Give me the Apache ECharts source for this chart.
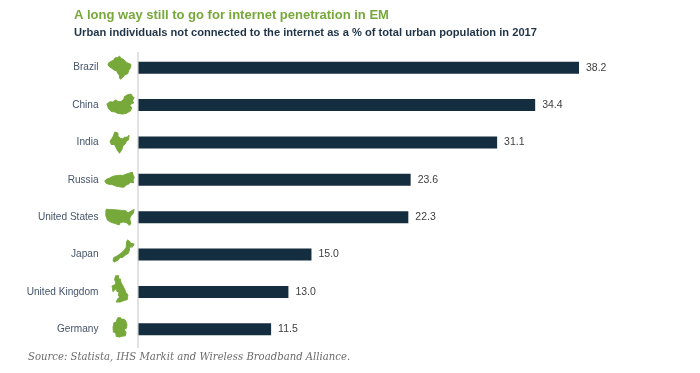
<!DOCTYPE html>
<html><head><meta charset="utf-8">
<style>html,body{margin:0;padding:0;background:#fff}#c{width:700px;height:373px;filter:blur(0.4px)}</style>
<script src="https://cdn.jsdelivr.net/npm/echarts@6/dist/echarts.min.js"></script>
</head><body><div id="c"></div>
<script>
const categories = ['Brazil','China','India','Russia','United States','Japan','United Kingdom','Germany'];
// Bar lengths as drawn in the picture: the United States bar is visibly longer than its printed 22.3.
const barLengths = [38.2,34.4,31.1,23.6,23.4,15.0,13.0,11.5];
const printedValues = ['38.2','34.4','31.1','23.6','22.3','15.0','13.0','11.5'];
const titleText = 'A long way still to go for internet penetration in EM';
const subtitleText = 'Urban individuals not connected to the internet as a % of total urban population in 2017';
const sourceText = 'Source: Statista, IHS Markit and Wireless Broadband Alliance.';
const iconPaths = [
 'M2 30 L14 22 L24 18 L30 8 L42 6 L50 0 L58 10 L70 16 L82 28 L100 36 L98 50 L90 62 L86 76 L72 82 L64 92 L54 100 L50 94 L50 84 L42 74 L38 64 L26 60 L16 52 L6 46 L0 38 Z',
 'M0 50 L12 38 L22 40 L32 30 L42 38 L54 36 L62 26 L66 12 L76 4 L88 0 L94 12 L100 18 L94 32 L98 44 L88 50 L84 58 L92 68 L86 84 L72 96 L58 100 L42 98 L32 90 L18 88 L6 72 Z',
 'M26 0 L42 6 L42 22 L54 30 L68 34 L76 26 L90 26 L100 16 L98 36 L86 44 L80 56 L68 66 L62 84 L50 100 L40 88 L30 70 L24 60 L8 60 L0 46 L10 32 L16 22 Z',
 'M0 58 L8 44 L16 38 L28 26 L40 22 L52 18 L64 20 L76 10 L86 4 L94 0 L96 18 L100 34 L96 50 L98 70 L86 66 L80 80 L70 88 L64 100 L50 98 L38 92 L28 84 L18 82 L6 76 Z',
 'M2 0 L24 2 L52 6 L68 8 L74 18 L82 20 L92 10 L100 2 L96 28 L88 42 L84 60 L88 88 L84 100 L74 84 L60 80 L50 86 L46 98 L34 90 L18 82 L6 68 L0 40 L0 14 Z',
 'M70 0 L78 6 L84 14 L100 18 L92 32 L80 30 L78 46 L72 60 L58 68 L46 78 L32 80 L22 92 L6 100 L0 92 L4 80 L20 72 L36 62 L50 50 L62 36 L64 22 L64 10 Z',
 'M22 0 L42 0 L40 12 L52 12 L58 28 L68 38 L82 56 L88 66 L100 74 L96 90 L74 94 L50 100 L26 100 L36 88 L50 82 L40 74 L44 62 L30 58 L18 38 L24 26 L16 14 Z M0 40 L16 34 L24 48 L6 60 Z',
 'M34 0 L52 0 L58 8 L76 8 L88 18 L96 36 L92 54 L76 62 L90 78 L84 94 L62 96 L44 100 L22 96 L18 78 L2 74 L0 50 L6 28 L22 22 L28 8 Z'
];
const iconSizes = [[23,23],[27,20],[19,21],[29,15],[28,16],[21,22],[16,26],[14,19]];
const iconOffsets = [[-19,0],[-18,-1],[-19,0],[-19,0],[-18.5,0],[-15,-3.5],[-18.5,-3],[-18.5,-2]];

const chart = echarts.init(document.getElementById('c'), null, {renderer:'canvas'});
chart.setOption({
  animation:false,
  backgroundColor:'#fff',
  title:[
    {text:titleText,left:74,top:9,padding:0,textStyle:{color:'#76a83a',fontFamily:'Liberation Sans',fontSize:13,fontWeight:'bold'}},
    {text:subtitleText,left:74,top:27.5,padding:0,textStyle:{color:'#1f3347',fontFamily:'Liberation Sans',fontSize:11.15,fontWeight:'bold'}},
    {text:sourceText,left:28,top:352,padding:0,textStyle:{color:'#6b6b6b',fontFamily:'DejaVu Serif',fontSize:10.1,fontStyle:'italic',fontWeight:'normal'}}
  ],
  graphic:[{type:'line',silent:true,shape:{x1:138,y1:52,x2:138,y2:348},style:{stroke:'#d9d9d9',lineWidth:1.5}}],
  grid:{left:138.5,top:49,width:553.5,height:299},
  xAxis:{type:'value',min:0,max:48,show:false},
  yAxis:{type:'category',data:categories,inverse:true,
    axisLine:{show:false},
    axisTick:{show:false},
    axisLabel:{margin:40,color:'#44546a',fontFamily:'Liberation Sans',fontSize:10.1}},
  series:[
    {type:'bar',data:barLengths,barWidth:12,itemStyle:{color:'#142d3f'},
     label:{show:true,position:'right',distance:7,color:'#404040',fontFamily:'Liberation Sans',fontSize:10.5,
       formatter:p=>printedValues[p.dataIndex]}},
    {type:'scatter',clip:false,silent:true,
     data:categories.map((c,i)=>({value:[0,i],symbol:'path://'+iconPaths[i],symbolSize:iconSizes[i],symbolOffset:iconOffsets[i]})),
     itemStyle:{color:'#76a83a',opacity:1,borderColor:'#76a83a',borderWidth:1,borderJoin:'round'}}
  ]
});
</script></body></html>
